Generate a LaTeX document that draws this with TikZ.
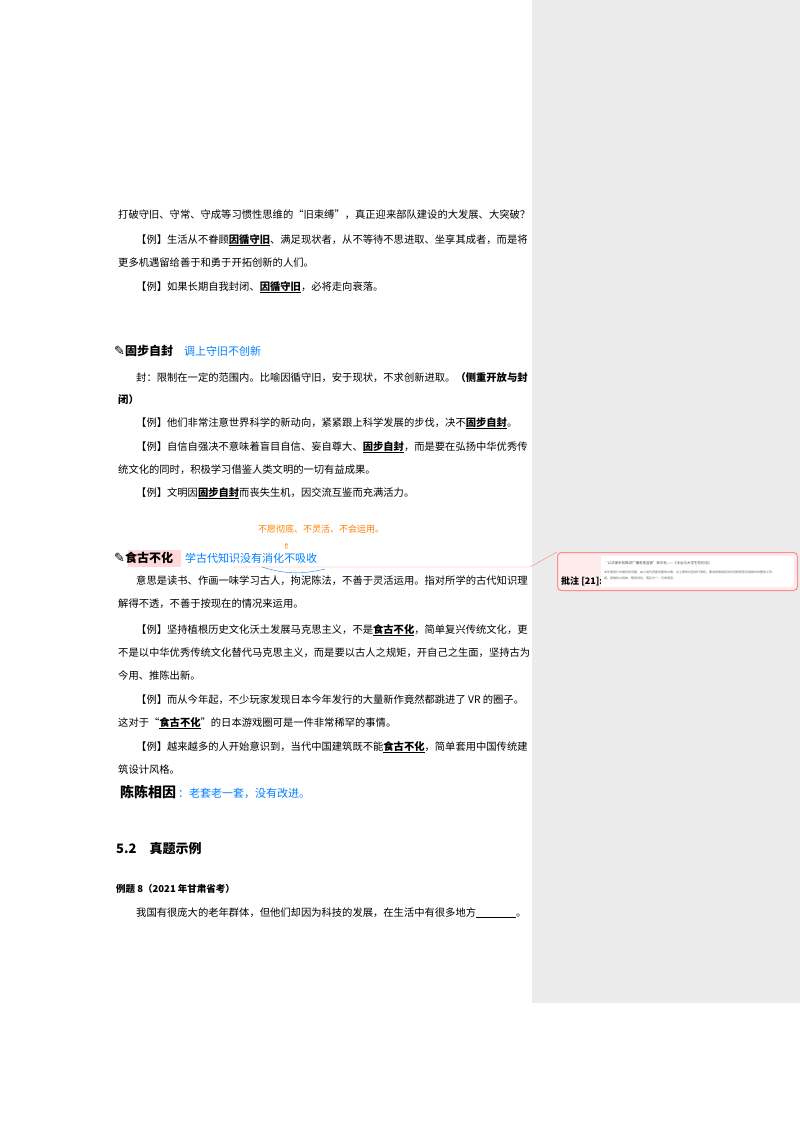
\documentclass[tikz,border=0pt]{standalone}
\usepackage{fontspec}
\setmainfont{Noto Sans CJK SC}
\newfontfamily\symf{DejaVu Sans}
\begin{document}
\begin{tikzpicture}[x=1pt,y=-1pt,
  t/.style={anchor=base west,inner sep=0pt,font=\fontsize{10.3}{12}\selectfont},
  hd/.style={anchor=base west,inner sep=0pt,font=\fontsize{12}{14}\selectfont\bfseries},
  hw/.style={anchor=base west,inner sep=0pt,font=\fontsize{11}{13}\selectfont,text=blue!50!cyan},
  ow/.style={anchor=base west,inner sep=0pt,font=\fontsize{9}{11}\selectfont,text=orange}]
\newcommand\kw[1]{\underline{\textbf{#1}}}
\newcommand\pen{{\symf\fontsize{13}{14}\selectfont ✎}}
\useasboundingbox (0,0) rectangle (800,1132);
\fill[white] (0,0) rectangle (800,1132);
\fill[black!8] (532,0) rectangle (800,1003);
% block 1
\node[t] (l1) at (118,218) {打破守旧、守常、守成等习惯性思维的“旧束缚”，真正迎来部队建设的大发展、大突破？};
\node[t] (l2) at (118,243) {\hspace{18pt}【例】生活从不眷顾\kw{因循守旧}、满足现状者，从不等待不思进取、坐享其成者，而是将};
\node[t] (l3) at (118,266) {更多机遇留给善于和勇于开拓创新的人们。};
\node[t] (l4) at (118,290) {\hspace{18pt}【例】如果长期自我封闭、\kw{因循守旧}，必将走向衰落。};
% block 2
\node[hd] (h1) at (114,355) {\pen 固步自封};
\node[hw] (w1) at (184,355) {调上守旧不创新};
\node[t] (l5) at (118,381) {\hspace{18pt}封：限制在一定的范围内。比喻因循守旧，安于现状，不求创新进取。\textbf{（侧重开放与封}};
\node[t] (l6) at (118,403) {\textbf{闭）}};
\node[t] (l7) at (118,426) {\hspace{18pt}【例】他们非常注意世界科学的新动向，紧紧跟上科学发展的步伐，决不\kw{固步自封}。};
\node[t] (l8) at (118,450) {\hspace{18pt}【例】自信自强决不意味着盲目自信、妄自尊大、\kw{固步自封}，而是要在弘扬中华优秀传};
\node[t] (l9) at (118,473) {统文化的同时，积极学习借鉴人类文明的一切有益成果。};
\node[t] (l10) at (118,496) {\hspace{18pt}【例】文明因\kw{固步自封}而丧失生机，因交流互鉴而充满活力。};
% block 3
\node[ow] (o1) at (258,532) {不愿彻底、不灵活、不会运用。};
\node[ow,font={\symf\fontsize{8}{9}\selectfont}] (o2) at (283,549) {⇑};
\fill[red!15] (128,550) rectangle (181,567);
\node[hd] (h2) at (114,562) {\pen 食古不化};
\node[hw] (w2) at (185,562) {学古代知识没有消化不吸收};
\draw[blue!50!cyan,thin] (262,567) to[bend right=15] (325,569);
\node[t] (l11) at (118,584) {\hspace{18pt}意思是读书、作画一味学习古人，拘泥陈法，不善于灵活运用。指对所学的古代知识理};
\node[t] (l12) at (118,607) {解得不透，不善于按现在的情况来运用。};
\node[t] (l13) at (118,633) {\hspace{18pt}【例】坚持植根历史文化沃土发展马克思主义，不是\kw{食古不化}，简单复兴传统文化，更};
\node[t] (l14) at (118,656) {不是以中华优秀传统文化替代马克思主义，而是要以古人之规矩，开自己之生面，坚持古为};
\node[t] (l15) at (118,679) {今用、推陈出新。};
\node[t] (l16) at (118,703) {\hspace{18pt}【例】而从今年起，不少玩家发现日本今年发行的大量新作竟然都跳进了 VR 的圈子。};
\node[t] (l17) at (118,726) {这对于“\kw{食古不化}”的日本游戏圈可是一件非常稀罕的事情。};
\node[t] (l18) at (118,750) {\hspace{18pt}【例】越来越多的人开始意识到，当代中国建筑既不能\kw{食古不化}，简单套用中国传统建};
\node[t] (l19) at (118,773) {筑设计风格。};
\node[anchor=base west,inner sep=0pt,font=\fontsize{14}{16}\selectfont\bfseries] (w3) at (120,797) {陈陈相因};
\node[hw] (w4) at (178,797) {：老套老一套，没有改进。};
% section
\node[anchor=base west,inner sep=0pt,font=\fontsize{13}{15}\selectfont\bfseries] (s1) at (116,853) {5.2\quad 真题示例};
\node[anchor=base west,inner sep=0pt,font=\fontsize{9.5}{11}\selectfont\bfseries] (s2) at (116,892) {例题 8（2021 年甘肃省考）};
\node[t] (l20) at (118,916) {\hspace{18pt}我国有很庞大的老年群体，但他们却因为科技的发展，在生活中有很多地方\underline{\hspace{40pt}}。};
% comment
\node[draw=red!45,fill=red!8,rounded corners=4pt,line width=1pt,minimum width=240pt,minimum height=38pt,anchor=north west,inner sep=0pt] (cb) at (557,552) {};
\node[anchor=base west,inner sep=0pt,font=\fontsize{9}{11}\selectfont\bfseries] (cl) at (561,584) {批注 [21]:};
\fill[white] (601,556) rectangle (794,587);
\node[anchor=west,inner sep=0pt,font=\fontsize{3.5}{4}\selectfont,text=black!70] (c1) at (604,563) {“以法律手段推进广播电视监管”新华社——《法治与大学生权利法》};
\node[anchor=west,inner sep=0pt,font=\fontsize{3}{4}\selectfont,text=black!60] (c2) at (604,572) {本年度统计中报告的问题，由小组负责提出整改方案，对上报的内容进行审核，要求按照规定的时间和程序完成相关的整改工作。};
\node[anchor=west,inner sep=0pt,font=\fontsize{3}{4}\selectfont,text=black!60] (c3) at (604,578) {高、措施有力具体，整改到位，落实为一，见效明显。};
\coordinate (a1) at (234,567);
\coordinate (a2) at (530,567);
\draw[red!50,thin] (a1) -- (a2) -- (cb.north west);
\end{tikzpicture}
\end{document}
